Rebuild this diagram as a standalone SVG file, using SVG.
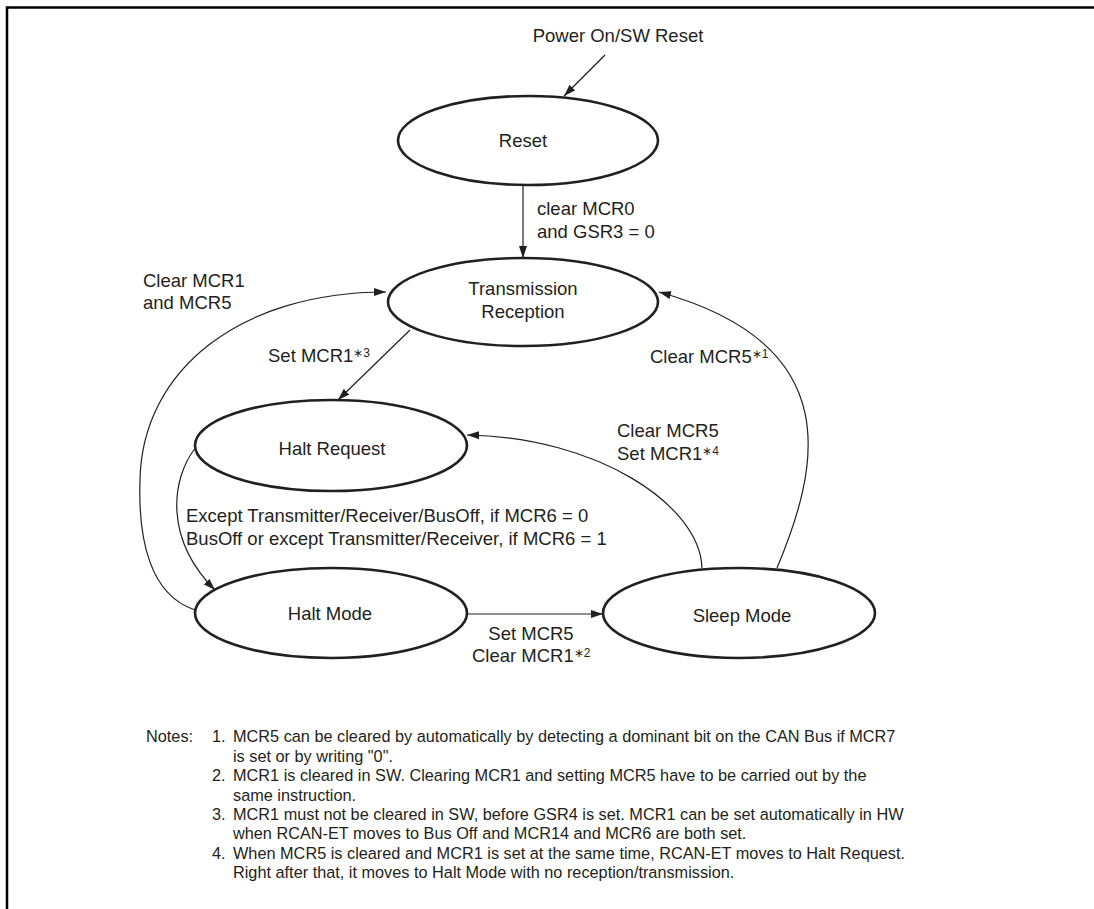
<svg xmlns="http://www.w3.org/2000/svg" width="1094" height="909" viewBox="0 0 1094 909">
<style>
text{font-family:"Liberation Sans",Arial,sans-serif;font-size:18.5px;fill:#231f20}
.n{font-size:16.3px}
.sup{font-size:12px}
.st{fill:#fff;stroke:#231f20;stroke-width:2.6}
.c{fill:none;stroke:#231f20;stroke-width:1.2}
.mid{text-anchor:middle}
</style>
<defs>
<marker id="ah" viewBox="0 0 12 8" refX="12" refY="4" markerWidth="12" markerHeight="8" markerUnits="userSpaceOnUse" orient="auto">
<path d="M0,0 L12,4 L0,8 Z" fill="#231f20"/>
</marker>
</defs>
<rect width="1094" height="909" fill="#fff"/>
<path d="M7,909 V7.5 H1094" fill="none" stroke="#000" stroke-width="2.5"/>

<g id="connectors">
<line class="c" x1="605" y1="55" x2="564" y2="96" marker-end="url(#ah)"/>
<line class="c" x1="523" y1="185" x2="523" y2="258" marker-end="url(#ah)"/>
<path class="c" d="M195,610 C150,595 138,540 140,480 C142,370 240,292 386,292" marker-end="url(#ah)"/>
<line class="c" x1="410" y1="330" x2="338" y2="400" marker-end="url(#ah)"/>
<path class="c" d="M196,447 C170,480 165,540 215,590" marker-end="url(#ah)"/>
<line class="c" x1="467" y1="614" x2="603" y2="614" marker-end="url(#ah)"/>
<path class="c" d="M702,568 C700,505 597,437 467,435" marker-end="url(#ah)"/>
<path class="c" d="M777,568 C818,470 850,345 659,292" marker-end="url(#ah)"/>
</g>

<g id="labels">
<text x="618" y="42" class="mid">Power On/SW Reset</text>
<text x="537" y="215">clear MCR0</text>
<text x="537" y="238">and GSR3 = 0</text>
<text x="143" y="287">Clear MCR1</text>
<text x="143" y="309">and MCR5</text>
<text x="268" y="362">Set MCR1<tspan class="sup" dy="-5">∗3</tspan></text>
<text x="650" y="363">Clear MCR5<tspan class="sup" dy="-5">∗1</tspan></text>
<text x="617" y="437">Clear MCR5</text>
<text x="617" y="460">Set MCR1<tspan class="sup" dy="-5">∗4</tspan></text>
<text x="186" y="522">Except Transmitter/Receiver/BusOff, if MCR6 = 0</text>
<text x="186" y="545">BusOff or except Transmitter/Receiver, if MCR6 = 1</text>
<text x="531" y="640" class="mid">Set MCR5</text>
<text x="472" y="662">Clear MCR1<tspan class="sup" dy="-5">∗2</tspan></text>
</g>

<g id="reset"><ellipse class="st" cx="528" cy="140.5" rx="130" ry="44.5"/><text x="523" y="147" class="mid">Reset</text></g>
<g id="txrx"><ellipse class="st" cx="523" cy="302" rx="135" ry="44"/><text x="523" y="295" class="mid">Transmission</text><text x="523" y="318" class="mid">Reception</text></g>
<g id="haltreq"><ellipse class="st" cx="331" cy="445.5" rx="136" ry="45.5"/><text x="332" y="455" class="mid">Halt Request</text></g>
<g id="haltmode"><ellipse class="st" cx="331" cy="613" rx="136" ry="45"/><text x="330" y="620" class="mid">Halt Mode</text></g>
<g id="sleep"><ellipse class="st" cx="739" cy="613" rx="136" ry="45"/><text x="742" y="622" class="mid">Sleep Mode</text></g>

<g id="notes">
<text class="n" x="146" y="742">Notes:</text>
<text class="n" x="212" y="742">1.</text>
<text class="n" x="233" y="742">MCR5 can be cleared by automatically by detecting a dominant bit on the CAN Bus if MCR7</text>
<text class="n" x="233" y="762">is set or by writing "0".</text>
<text class="n" x="212" y="781">2.</text>
<text class="n" x="233" y="781">MCR1 is cleared in SW. Clearing MCR1 and setting MCR5 have to be carried out by the</text>
<text class="n" x="233" y="801">same instruction.</text>
<text class="n" x="212" y="820">3.</text>
<text class="n" x="233" y="820">MCR1 must not be cleared in SW, before GSR4 is set. MCR1 can be set automatically in HW</text>
<text class="n" x="233" y="839">when RCAN-ET moves to Bus Off and MCR14 and MCR6 are both set.</text>
<text class="n" x="212" y="859">4.</text>
<text class="n" x="233" y="859">When MCR5 is cleared and MCR1 is set at the same time, RCAN-ET moves to Halt Request.</text>
<text class="n" x="233" y="878">Right after that, it moves to Halt Mode with no reception/transmission.</text>
</g>
</svg>
